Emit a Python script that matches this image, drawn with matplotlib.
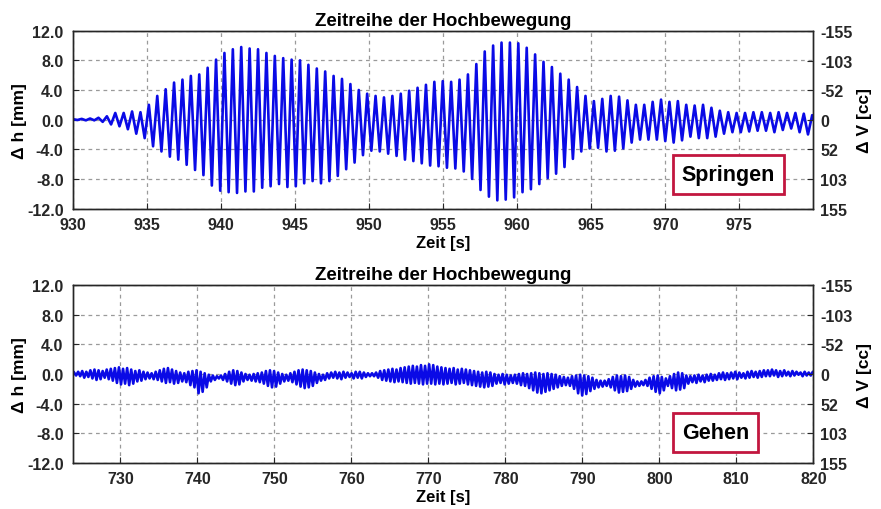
import numpy as np
import matplotlib
matplotlib.use("Agg")
import matplotlib.pyplot as plt

plt.rcParams['font.family'] = ['Liberation Sans', 'DejaVu Sans']
plt.rcParams['font.weight'] = 'bold'
plt.rcParams['axes.unicode_minus'] = False

# ---------------- data ----------------
title = "Zeitreihe der Hochbewegung"
xlabel = "Zeit [s]"
ylabel_left = "Δ h [mm]"
ylabel_right = "Δ V [cc]"
yticks_h = [12.0, 8.0, 4.0, 0.0, -4.0, -8.0, -12.0]
yticks_v = [-155, -103, -52, 0, 52, 103, 155]

# Springen: oscillation peaks (max) and troughs (min) per cycle
top_t0 = 930.0
top_period = 0.5673
top_max = [0.05, 0.1, 0.15, 0.25, 0.45, 0.9, 0.9, 1.1, 1.0, 2.0,
           3.2, 4.1, 5.0, 5.4, 5.9, 6.1, 7.0, 8.1, 9.0, 9.5,
           9.8, 9.6, 9.5, 9.0, 8.6, 8.3, 8.1, 8.0, 7.4, 6.9,
           6.5, 5.9, 5.5, 4.8, 4.0, 3.5, 3.2, 3.0, 3.2, 3.5,
           3.9, 4.3, 4.7, 5.1, 5.2, 5.1, 5.4, 6.1, 7.5, 9.2,
           10.0, 10.4, 10.4, 10.3, 9.7, 8.8, 7.8, 7.1, 6.2, 5.4,
           4.4, 3.2, 2.5, 2.8, 3.2, 3.1, 2.6, 2.0, 2.0, 2.4,
           2.7, 2.4, 2.5, 2.0, 1.9, 2.0, 1.6, 1.2, 1.0, 0.9,
           0.9, 1.0, 1.0, 0.9, 1.0, 0.9, 0.9, 0.8, 0.6]
top_min = [-0.05, -0.1, -0.1, -0.3, -0.65, -0.9, -1.3, -1.9, -2.5, -3.6,
           -4.3, -5.0, -5.4, -6.1, -6.8, -7.5, -8.9, -9.6, -9.8, -9.9,
           -9.7, -9.7, -9.2, -9.0, -8.7, -9.1, -9.0, -8.6, -8.3, -8.6,
           -8.3, -7.6, -6.7, -5.8, -4.8, -4.2, -4.3, -4.6, -4.9, -5.4,
           -5.6, -5.9, -6.2, -6.3, -6.5, -6.6, -7.0, -8.0, -9.5, -10.4,
           -10.9, -10.8, -10.5, -9.8, -9.4, -8.7, -7.9, -7.3, -6.4, -5.3,
           -4.3, -3.9, -3.8, -4.3, -4.2, -3.9, -3.1, -2.7, -2.7, -2.7,
           -2.9, -3.1, -2.8, -2.3, -2.5, -2.5, -2.3, -1.9, -1.7, -1.7,
           -1.6, -1.5, -1.5, -1.7, -1.4, -1.2, -1.7, -2.0, -1.0]

# Gehen: oscillation peaks (max) and troughs (min) per cycle
bot_t0 = 724.0
bot_period = 0.53
bot_max = [0.2, 0.3, 0.4, 0.3, 0.5, 0.6, 0.5, 0.4, 0.6, 0.7,
           0.8, 0.9, 0.7, 0.8, 0.6, 0.4, 0.5, 0.3, 0.2, 0.1,
           0.3, 0.5, 0.7, 0.8, 0.6, 0.4, 0.2, 0.1, 0.3, 0.4,
           0.5, 0.3, 0.1, -0.1, -0.2, -0.3, -0.2, 0.0, 0.3, 0.5,
           0.4, 0.2, 0.0, -0.1, 0.0, 0.1, 0.2, 0.4, 0.5, 0.4,
           0.2, 0.0, -0.1, 0.1, 0.3, 0.5, 0.6, 0.5, 0.4, 0.2,
           0.0, -0.1, 0.1, 0.2, 0.3, 0.2, 0.3, 0.2, 0.1, 0.3,
           0.3, 0.2, 0.1, 0.1, 0.2, 0.4, 0.5, 0.6, 0.7, 0.6,
           0.8, 0.9, 1.0, 1.1, 1.0, 1.2, 1.1, 1.3, 1.2, 1.0,
           0.9, 0.8, 0.7, 0.8, 0.6, 0.7, 0.6, 0.5, 0.4, 0.3,
           0.2, 0.3, 0.2, 0.0, -0.1, 0.0, -0.1, -0.2, -0.1, 0.0,
           0.1, 0.0, 0.1, 0.2, 0.1, 0.0, 0.1, 0.0, -0.1, -0.3,
           -0.4, -0.5, -0.3, -0.2, -0.1, -0.2, -0.3, -0.5, -0.8, -0.9,
           -0.9, -0.7, -0.4, -0.2, -0.3, -0.2, -0.4, -0.8, -1.0, -1.0,
           -0.8, -0.5, -0.3, -0.2, -0.4, -0.6, -0.3, 0.0, 0.2, 0.1,
           -0.2, -0.3, -0.2, -0.1, -0.2, -0.1, 0.0, -0.1, 0.1, 0.2,
           0.1, 0.2, 0.3, 0.2, 0.1, 0.3, 0.4, 0.3, 0.4, 0.5,
           0.5, 0.6, 0.5, 0.4, 0.5, 0.3, 0.4, 0.3, 0.2, 0.3,
           0.2, 0.3]
bot_min = [-0.2, -0.3, -0.5, -0.4, -0.6, -0.8, -0.7, -0.5, -0.7, -0.9,
           -1.2, -1.4, -1.3, -1.5, -1.3, -1.0, -0.9, -0.7, -0.6, -0.7,
           -0.8, -1.0, -1.2, -1.1, -1.3, -1.2, -1.0, -1.1, -1.5, -1.8,
           -2.6, -2.4, -1.8, -1.0, -0.8, -0.6, -0.8, -1.0, -1.3, -1.5,
           -1.4, -1.0, -0.8, -0.9, -1.0, -1.1, -1.3, -1.6, -1.8, -1.7,
           -1.3, -1.0, -0.9, -1.1, -1.4, -1.7, -1.9, -1.8, -1.6, -1.2,
           -0.9, -0.8, -0.6, -0.5, -0.6, -0.7, -0.5, -0.4, -0.6, -0.5,
           -0.6, -0.4, -0.3, -0.3, -0.5, -0.8, -0.9, -1.0, -1.1, -1.0,
           -1.1, -1.2, -1.3, -1.2, -1.3, -1.4, -1.3, -1.3, -1.4, -1.3,
           -1.4, -1.3, -1.2, -1.4, -1.3, -1.2, -1.4, -1.5, -1.6, -1.7,
           -1.8, -1.7, -1.6, -1.3, -1.2, -1.4, -1.3, -1.2, -1.3, -1.5,
           -1.6, -1.9, -2.2, -2.5, -2.6, -2.4, -2.2, -2.0, -1.8, -1.6,
           -1.5, -1.6, -2.0, -2.6, -2.9, -2.7, -2.3, -2.0, -1.8, -1.7,
           -1.6, -1.8, -2.2, -2.5, -2.4, -2.3, -2.0, -1.7, -1.6, -1.5,
           -1.6, -2.0, -2.4, -2.6, -2.2, -1.6, -1.9, -2.2, -2.1, -1.9,
           -1.3, -1.1, -1.2, -1.0, -1.1, -0.9, -0.9, -0.8, -0.7, -0.8,
           -0.7, -0.6, -0.7, -0.5, -0.6, -0.5, -0.4, -0.5, -0.4, -0.3,
           -0.3, -0.2, -0.4, -0.3, -0.2, -0.3, -0.2, -0.1, -0.3, -0.2,
           -0.2, -0.2]

panels = [
    dict(t0=top_t0, period=top_period, vmax=top_max, vmin=top_min,
         xlim=(930, 980), xticks=[930, 935, 940, 945, 950, 955, 960, 965, 970, 975],
         label="Springen"),
    dict(t0=bot_t0, period=bot_period, vmax=bot_max, vmin=bot_min,
         xlim=(723.9, 820), xticks=[730, 740, 750, 760, 770, 780, 790, 800, 810, 820],
         label="Gehen"),
]

# ---------------- layout ----------------
fig = plt.figure(figsize=(8.81, 5.10), dpi=100)
ax_rects = [[0.0832, 0.5892, 0.8400, 0.3486],
            [0.0832, 0.0902, 0.8400, 0.3490]]
box_pos = [(0.885, 0.191), (0.868, 0.171)]

for p, rect, bpos in zip(panels, ax_rects, box_pos):
    ax = fig.add_axes(rect)
    n = min(len(p['vmax']), len(p['vmin']))
    k = np.arange(n)
    t_max = p['t0'] + k * p['period']
    t_min = t_max + p['period'] / 2
    t = np.empty(2 * n)
    y = np.empty(2 * n)
    t[0::2] = t_max
    t[1::2] = t_min
    y[0::2] = p['vmax'][:n]
    y[1::2] = p['vmin'][:n]
    ax.plot(t, y, color='#0a0ae6', lw=1.9, solid_joinstyle='round')

    ax.set_xlim(*p['xlim'])
    ax.set_ylim(-12, 12)
    ax.set_xticks(p['xticks'])
    ax.set_xticklabels([str(v) for v in p['xticks']], fontsize=11.5, fontweight='bold')
    ax.set_yticks(yticks_h)
    ax.set_yticklabels([f"{v:.1f}" for v in yticks_h], fontsize=11.5, fontweight='bold')
    ax.grid(True, ls=(0, (3, 3)), color='#9a9a9a', lw=0.9)
    ax.tick_params(axis='x', direction='in', length=4, width=0.8, colors='#262626', pad=6)
    ax.tick_params(axis='y', direction='in', length=4, width=0.8, colors='#262626', pad=7)
    for s in ax.spines.values():
        s.set_color('#262626')
        s.set_linewidth(1.0)
    ax.set_title(title, fontsize=13.5, fontweight='bold', pad=4)
    ax.set_xlabel(xlabel, fontsize=12, fontweight='bold', labelpad=2)
    ax.set_ylabel(ylabel_left, fontsize=12.5, fontweight='bold', labelpad=0)

    ax2 = ax.twinx()
    ax2.set_ylim(155, -155)
    ax2.set_yticks(yticks_v)
    ax2.set_yticklabels([str(v) for v in yticks_v], fontsize=11.5, fontweight='bold')
    ax2.tick_params(direction='in', length=4, width=0.8, colors='#262626', pad=5)
    ax2.set_ylabel(ylabel_right, fontsize=12.5, fontweight='bold', labelpad=3)
    for s in ax2.spines.values():
        s.set_color('#262626')
        s.set_linewidth(1.0)

    ax.text(bpos[0], bpos[1], p['label'], transform=ax.transAxes,
            ha='center', va='center', fontsize=15.5, fontweight='bold', zorder=10,
            bbox=dict(boxstyle='square,pad=0.4', fc='white', ec='#c2163f', lw=2))

fig.savefig("out.png", dpi=100)
